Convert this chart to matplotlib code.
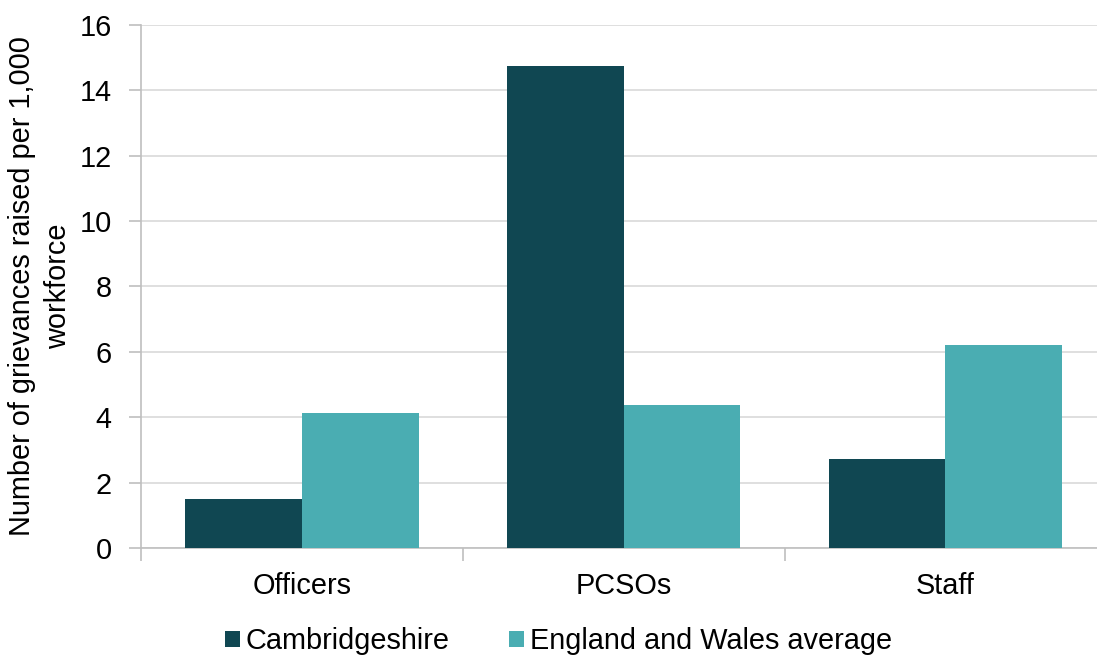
import numpy as np
import matplotlib
matplotlib.use("Agg")
import matplotlib.pyplot as plt

plt.rcParams['font.family'] = ['Liberation Sans', 'DejaVu Sans']

categories = ["Officers", "PCSOs", "Staff"]
cambs = [1.5, 14.75, 2.72]
ew_avg = [4.13, 4.38, 6.2]
series_names = ["Cambridgeshire", "England and Wales average"]
yticks = [0, 2, 4, 6, 8, 10, 12, 14, 16]

dark = "#104752"
light = "#4aadb2"
fs = 20.8

fig = plt.figure(figsize=(10.97, 6.57), dpi=100)
ax = fig.add_axes([0.1285, 0.166, 0.88, 0.796])

x = np.arange(len(categories))
w = 0.363
b1 = ax.bar(x - w/2, cambs, w, color=dark, label=series_names[0], zorder=3)
b2 = ax.bar(x + w/2, ew_avg, w, color=light, label=series_names[1], zorder=3)

ax.set_xlim(-0.5, len(categories) - 0.5)
ax.set_ylim(0, 16)
ax.set_yticks(yticks)
ax.yaxis.grid(True, color="#d9d9d9", linewidth=1.2, zorder=0)
ax.set_axisbelow(True)

# category labels centred, ticks on the boundaries
ax.set_xticks(x)
ax.set_xticklabels(categories, fontsize=fs)
ax.tick_params(axis='x', length=0, pad=17)
ax.set_xticks(np.arange(-0.5, len(categories), 1), minor=True)
ax.tick_params(axis='x', which='minor', length=9, color="#bfbfbf", width=1.2)
ax.tick_params(axis='y', labelsize=fs, length=9, color="#bfbfbf", width=1.2, pad=12)

for s in ['top', 'right']:
    ax.spines[s].set_visible(False)
for s in ['left', 'bottom']:
    ax.spines[s].set_color("#bfbfbf")
    ax.spines[s].set_linewidth(1.2)

ax.set_ylabel("Number of grievances raised per 1,000\nworkforce", fontsize=fs,
              linespacing=1.36, labelpad=5.5)

fig.legend(handles=[b1, b2], loc='center', bbox_to_anchor=(0.509, 0.024), ncol=2,
           frameon=False, fontsize=fs, handlelength=0.52, handleheight=0.52,
           handletextpad=0.2, columnspacing=2.05)

fig.savefig("out.png", dpi=100)
